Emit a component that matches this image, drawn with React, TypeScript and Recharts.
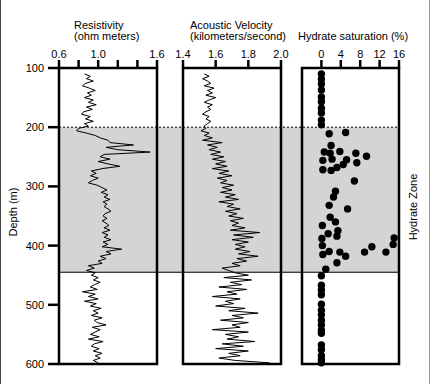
import React from "react";
import { ReferenceArea, ReferenceLine, Scatter, ScatterChart, XAxis, YAxis } from "recharts";

const W = 431;
const H = 384;
const PLOT_TOP = 68;
const PLOT_BOTTOM = 364;
const X_AXIS_H = 24;
const Y_AXIS_W = 48;
const FONT = '"Liberation Sans", Arial, sans-serif';

const DEPTH_DOMAIN: [number, number] = [100, 600];
const DEPTH_TICKS = [100, 200, 300, 400, 500, 600];
const HYDRATE_TOP = 200;
const HYDRATE_BASE = 445;

// log samples, every 4 m starting at 110 m
const LOG_TOP = 110;
const LOG_STEP = 4;

const RESISTIVITY = [
  0.86, 0.92, 0.88, 0.95, 0.87, 0.84, 0.91, 0.97, 0.89, 0.93, 0.86, 0.95, 0.9, 0.98, 0.88, 0.94, 0.85, 0.83, 0.92,
  0.87, 0.95, 0.86, 0.9,
  0.8, 0.78, 0.88, 0.97, 1.02, 1.1, 1.12, 1.36, 1.08, 1.2, 1.53, 1.06, 1.02,
  1.12, 1.0, 1.1, 1.22, 1.04, 0.93, 0.98, 0.92, 1.0, 0.94, 0.9, 0.99,
  1.04, 1.09, 1.03, 1.1, 1.06, 1.12, 1.05, 1.09, 1.06, 1.1, 1.13, 1.07, 1.05, 1.09, 1.04, 1.08, 1.11, 1.06, 1.12,
  1.04, 1.1, 1.06, 1.13, 1.05, 1.1,
  1.04, 1.24, 1.08, 1.13, 1.02, 1.08, 1.0, 1.04, 0.9, 0.96, 0.88,
  0.97, 0.93, 1.0, 0.95, 1.02, 0.96, 0.92, 0.99, 0.84, 0.97, 0.9, 1.0, 0.86, 0.98, 0.92, 1.03, 0.95, 1.0, 0.93,
  1.04, 0.96, 0.99, 1.08, 0.94, 1.02, 0.97, 0.92, 1.01, 0.9, 1.05, 0.96, 0.93, 1.01, 0.95, 1.04, 0.97, 1.02, 0.95,
  1.0,
];

const VELOCITY = [
  1.53, 1.56, 1.52, 1.55, 1.57, 1.53, 1.59, 1.55, 1.58, 1.54, 1.6, 1.56, 1.53, 1.58, 1.55, 1.57, 1.54, 1.52, 1.56,
  1.54, 1.57, 1.55, 1.53,
  1.54, 1.51, 1.56, 1.53, 1.58, 1.52, 1.64, 1.55, 1.61, 1.56, 1.63, 1.57, 1.65,
  1.58, 1.66, 1.6, 1.67, 1.58, 1.68, 1.62, 1.7, 1.61, 1.67, 1.63, 1.71,
  1.64, 1.7, 1.63, 1.72, 1.66, 1.74, 1.62, 1.71, 1.67, 1.75, 1.66, 1.73, 1.68, 1.77, 1.69, 1.74, 1.7, 1.78, 1.69,
  1.87, 1.71, 1.83, 1.7, 1.8, 1.72,
  1.78, 1.72, 1.81, 1.74, 1.86, 1.73, 1.79, 1.7, 1.75, 1.64, 1.68,
  1.72, 1.8, 1.65, 1.82, 1.69, 1.76, 1.62, 1.79, 1.67, 1.73, 1.58, 1.75, 1.66, 1.71, 1.6, 1.78, 1.68, 1.86, 1.7,
  1.77, 1.63, 1.8, 1.7, 1.75, 1.58, 1.8, 1.66, 1.74, 1.67, 1.84, 1.64, 1.77, 1.6, 1.8, 1.68, 1.75, 1.62, 1.72,
  1.93,
];

const SAT_DEPTH = [
  110, 119, 127, 137, 149, 157, 168, 176, 188, 196,
  209, 211, 231, 241, 242, 244, 244, 249, 254, 255, 256, 260, 263, 268, 272, 273, 291, 308, 318, 332, 338, 352, 360,
  366, 375, 380, 384, 387, 388, 398, 400, 402, 410, 411, 411, 411, 415, 418, 429, 440,
  451, 467, 475, 483, 499, 509, 517, 526, 534, 543, 548, 568, 576, 586, 593, 598,
];
const SAT_VALUE = [
  0, 0, 0, 0, 0, 0, 0, 0, 0, 0,
  5.0, 1.6, 2.0, 3.8, 0.6, 1.8, 7.1, 9.3, 2.2, 5.2, 0.3, 7.3, 4.5, 3.2, 0.3, 2.0, 6.8, 2.9, 2.5, 1.6, 5.4, 1.8, 2.9,
  0.2, 3.4, 1.4, 3.2, 15.0, 0.1, 14.8, 0.2, 10.4, 1.6, 3.8, 8.9, 13.3, 0.3, 5.0, 3.2, 0.9,
  0, 0, 0, 0, 0, 0, 0, 0, 0, 0, 0, 0, 0, 0, 0, 0,
];

const RES_TICKS = [0.6, 0.8, 1.0, 1.2, 1.4, 1.6];
const RES_LABELS = [0.6, 1.0, 1.6];
const VEL_TICKS = [1.4, 1.6, 1.8, 2.0];
const SAT_TICKS = [0, 4, 8, 12, 16];

const resData = RESISTIVITY.map((v, i) => ({ d: LOG_TOP + i * LOG_STEP, v }));
const velData = VELOCITY.map((v, i) => ({ d: LOG_TOP + i * LOG_STEP, v }));
const satData = SAT_VALUE.map((v, i) => ({ d: SAT_DEPTH[i], v }));
const zoneData = [
  { v: 0, d: HYDRATE_TOP },
  { v: 1, d: HYDRATE_BASE },
];

type PanelProps = {
  left: number;
  right: number;
  domain: [number, number];
  ticks: number[];
  labels: number[];
  digits: number;
  data: { d: number; v: number }[];
  dots?: boolean;
  depthAxis?: boolean;
};

function Panel({ left, right, domain, ticks, labels, digits, data, dots, depthAxis }: PanelProps) {
  return (
    <div style={{ position: "absolute", left: 0, top: 0 }}>
      <ScatterChart
        width={W}
        height={H}
        margin={{
          top: PLOT_TOP - X_AXIS_H,
          bottom: H - PLOT_BOTTOM,
          left: depthAxis ? left - Y_AXIS_W : left,
          right: W - right,
        }}
      >
        <XAxis
          type="number"
          dataKey="v"
          orientation="top"
          domain={domain}
          ticks={ticks}
          interval={0}
          height={X_AXIS_H}
          axisLine={false}
          tickSize={8}
          tickMargin={2}
          tickLine={{ stroke: "#000", strokeWidth: 2.5 }}
          tick={{ fill: "#000", fontSize: 11, fontFamily: FONT }}
          tickFormatter={(v: number) => (labels.includes(v) ? v.toFixed(digits) : "")}
          allowDataOverflow
        />
        <YAxis
          type="number"
          dataKey="d"
          domain={DEPTH_DOMAIN}
          ticks={DEPTH_TICKS}
          reversed
          hide={!depthAxis}
          width={Y_AXIS_W}
          interval={0}
          axisLine={false}
          tickSize={11}
          tickMargin={4}
          tickLine={{ stroke: "#000", strokeWidth: 2.5 }}
          tick={{ fill: "#000", fontSize: 11, fontFamily: FONT }}
        />
        <ReferenceArea
          x1={domain[0]}
          x2={domain[1]}
          y1={DEPTH_DOMAIN[0]}
          y2={DEPTH_DOMAIN[1]}
          fill="none"
          stroke="#000"
          strokeWidth={2.5}
          ifOverflow="visible"
        />
        {dots ? (
          <Scatter
            data={data}
            isAnimationActive={false}
            shape={(p: any) => <circle cx={p.cx} cy={p.cy} r={3.7} fill="#000" />}
          />
        ) : (
          <Scatter
            data={data}
            isAnimationActive={false}
            line={{ stroke: "#000", strokeWidth: 1 }}
            shape={() => <g />}
          />
        )}
      </ScatterChart>
    </div>
  );
}

const titleStyle: React.CSSProperties = {
  position: "absolute",
  fontSize: 11,
  lineHeight: "12px",
  whiteSpace: "nowrap",
  color: "#000",
};

export default function App() {
  return (
    <div style={{ position: "absolute", left: 0, top: 0, width: W, height: H, background: "#fff", fontFamily: FONT }}>
      <div style={{ position: "absolute", left: 0, top: 0, width: 1, height: H, background: "#444" }} />
      <div style={{ position: "absolute", left: 429, top: 0, width: 1, height: H, background: "#999" }} />

      <div style={{ position: "absolute", left: 0, top: 0 }}>
        <ScatterChart width={W} height={H} margin={{ top: PLOT_TOP, bottom: H - PLOT_BOTTOM, left: 59, right: W - 399 }}>
          <XAxis type="number" dataKey="v" domain={[0, 1]} hide />
          <YAxis type="number" dataKey="d" domain={DEPTH_DOMAIN} reversed hide />
          <ReferenceArea x1={0} x2={1} y1={HYDRATE_TOP} y2={HYDRATE_BASE} fill="#d4d4d4" fillOpacity={1} stroke="none" />
          <ReferenceLine y={HYDRATE_TOP} stroke="#000" strokeDasharray="2 2" />
          <ReferenceLine y={HYDRATE_BASE} stroke="#000" />
          <Scatter data={zoneData} isAnimationActive={false} shape={() => <g />} />
        </ScatterChart>
      </div>

      <Panel left={59} right={157} domain={[0.6, 1.6]} ticks={RES_TICKS} labels={RES_LABELS} digits={1} data={resData} depthAxis />
      <Panel left={183} right={281} domain={[1.4, 2.0]} ticks={VEL_TICKS} labels={VEL_TICKS} digits={1} data={velData} />
      <Panel left={302} right={399} domain={[-4, 16]} ticks={SAT_TICKS} labels={SAT_TICKS} digits={0} data={satData} dots />

      <div style={{ ...titleStyle, left: 74, top: 19 }}>Resistivity</div>
      <div style={{ ...titleStyle, left: 74, top: 30 }}>(ohm meters)</div>
      <div style={{ ...titleStyle, left: 190, top: 19 }}>Acoustic Velocity</div>
      <div style={{ ...titleStyle, left: 190, top: 30 }}>(kilometers/second)</div>
      <div style={{ ...titleStyle, left: 298, top: 30 }}>Hydrate saturation (%)</div>

      <svg width={W} height={H} style={{ position: "absolute", left: 0, top: 0, pointerEvents: "none" }}>
        <text transform="translate(17,212) rotate(-90)" textAnchor="middle" fontSize={11} fontFamily={FONT} fill="#000">
          Depth (m)
        </text>
        <text transform="translate(417,207) rotate(-90)" textAnchor="middle" fontSize={11} fontFamily={FONT} fill="#000">
          Hydrate Zone
        </text>
      </svg>
    </div>
  );
}
